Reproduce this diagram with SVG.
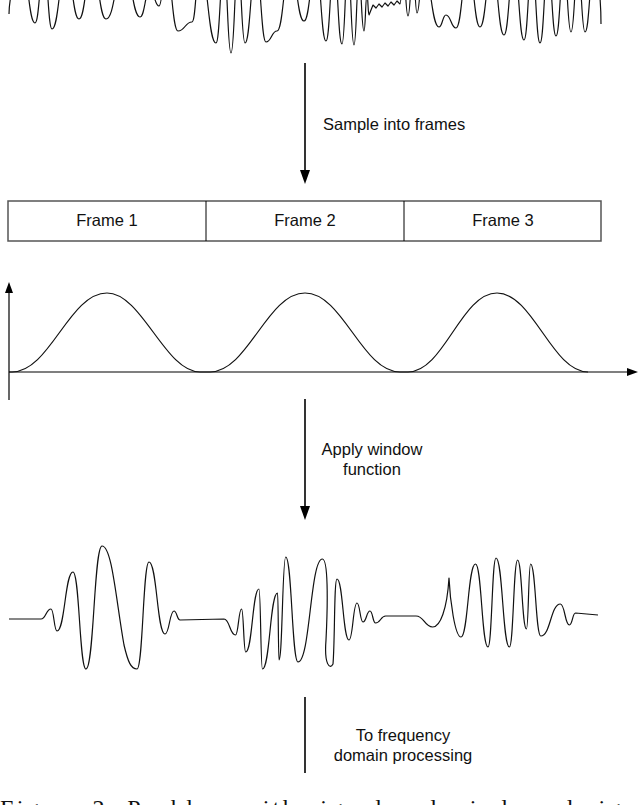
<svg xmlns="http://www.w3.org/2000/svg" width="640" height="805" viewBox="0 0 640 805">
<style>
.wave{fill:none;stroke:#111;stroke-width:1.2;stroke-linejoin:round}
.lbl{font-family:"Liberation Sans",Arial,sans-serif;font-size:16.5px;fill:#111}
.flow{stroke:#000;stroke-width:1.6;fill:none}
.head{fill:#000}
.axis{stroke:#000;stroke-width:1.2}
</style>
<rect width="640" height="805" fill="#fff"/>
<g id="signal">
<path class="wave" d="M9,14 C9,4 14,-30 22,-30 C28.5,-30 28.5,23 35,23 C39.5,23 39.5,-30 44,-30 C48,-30 48,29 52,29 C59,29 59,-30 66,-30 C72.5,-30 72.5,19 79,19 C85.5,19 85.5,-30 92,-30 C99,-30 99,19 106,19 C115,19 115,-30 124,-30 C132,-30 132,17 140,17 C145,17 145,-10 150,-10 C154.5,-10 154.5,6 159,6 C162.5,6 162.5,-30 166,-30 C172,-30 172,31 178,31 C185,31 185,22 192,22 C196,22 196,-30 200,-30 C208,-30 208,43 216,43 C220,43 220,-30 224,-30 C227.5,-30 227.5,53 231,53 C234.5,53 234.5,-30 238,-30 C241.5,-30 241.5,43 245,43 C250.5,43 250.5,-30 256,-30 C261,-30 261,42 266,42 C271.5,42 271.5,31 277,31 C283.5,31 283.5,-30 290,-30 C297,-30 297,21 304,21 C310,21 310,-30 316,-30 C321,-30 321,41 326,41 C330,41 330,-30 334,-30 C338,-30 338,44 342,44 C345,44 345,-30 348,-30 C351,-30 351,45 354,45 C356.5,45 356.5,-20 359,-20 C361.5,-20 361.5,31 364,31 C365.5,31 365.5,-5 367,-5 C368,-5 368,15 369,15 L373,5 376,8 379,4 382,7 385,3 388,6 391,2 394,5 397,1 400,4 C401.5,4 401.5,-30 403,-30 C405.5,-30 405.5,16 408,16 C410.5,16 410.5,-30 413,-30 C415,-30 415,13 417,13 C420,13 420,-30 423,-30 C431,-30 431,27 439,27 C442.5,27 442.5,15 446,15 C451,15 451,28 456,28 C462,28 462,-30 468,-30 C474,-30 474,27 480,27 C486,27 486,-30 492,-30 C498,-30 498,35 504,35 C509,35 509,-30 514,-30 C519,-30 519,40 524,40 C528,40 528,-30 532,-30 C536,-30 536,43 540,43 C544,43 544,-30 548,-30 C552,-30 552,36 556,36 C560,36 560,-30 564,-30 C567.5,-30 567.5,32 571,32 C574.5,32 574.5,-30 578,-30 C581.5,-30 581.5,32 585,32 C589.5,32 589.5,-30 594,-30 C598,-30 601,0 601,24"/>
</g>
<g id="frames">
<rect x="8" y="201" width="593" height="40" fill="#fff" stroke="#555" stroke-width="1.5"/>
<line x1="206" y1="201" x2="206" y2="241" stroke="#000" stroke-width="1"/>
<line x1="404" y1="201" x2="404" y2="241" stroke="#000" stroke-width="1"/>
<text class="lbl" x="107" y="226" text-anchor="middle" font-size="16">Frame 1</text>
<text class="lbl" x="305" y="226" text-anchor="middle" font-size="16">Frame 2</text>
<text class="lbl" x="503" y="226" text-anchor="middle" font-size="16">Frame 3</text>
</g>
<g id="window">
<line class="axis" x1="9" y1="400" x2="9" y2="292"/>
<polygon class="head" points="5,293 13,293 9,282"/>
<line class="axis" x1="9" y1="372" x2="628" y2="372"/>
<polygon class="head" points="627,368 627,376 638,372"/>
<path class="wave" d="M9,372 L12,372 C50,372 69,293 107,293 C142,293 165,372 200,372 L210,372 C248,372 267,293 305,293 C343,293 362,372 400,372 L408,372 C444,372 461,293 497,293 C533,293 552,372 588,372"/>
</g>
<g id="windowed">
<path class="wave" d="M9,619 L41,619 C46,619 46,609 51,609 C54,609 54,631 57,631 C65,631 65,572 73,572 C79.5,572 79.5,669 86,669 C94,669 94,546 102,546 C112,546 116,600 124,645 C128,662 131,669 137,669 C143,669 143,562 149,562 C157,562 157,634 165,634 C169.5,634 169.5,611 174,611 C177,611 177,620 180,620 L224,619 C229.75,619 229.75,635 235.5,635 C238.5,635 238.5,609 241.6,609 C243.6,609 243.6,652 245.7,652 C252.4,652 252.4,589 259,589 C260.7,589 260.7,669 262.4,669 C270,669 270,593 277.6,593 C278.3,593 278.3,660 279,660 C282.4,660 282.4,557 285.7,557 C291.9,557 291.9,662 298,662 C310.2,662 310.2,559 322.4,559 C328,559 328,600 326,640 C324,665 330,670 333,664 C335,640 334,579 337,579 C343,579 343,640 349,640 C353,640 353,603 357,603 C360,603 360,622 363,622 C366.5,622 366.5,611 370,611 C372.75,611 372.75,623 375.5,623 C380.6,623 380.6,616 385.7,616 L416,616 C424.3,616 424.3,627 432.7,627 C440,627 447,610 449,578 C450,600 455,637 461,637 C468,637 468,564 475.5,564 C481.7,564 481.7,647 488,647 C492,647 492,558 496,558 C502.7,558 502.7,647 509.4,647 C513.5,647 513.5,560 517.6,560 C522,560 522,629 526.5,629 C528.5,629 528.5,564 530.6,564 C535.7,564 535.7,636 540.8,636 C550.6,636 550.6,604 560.4,604 C564.9,604 564.9,625 569.4,625 C572.5,625 572.5,613 575.5,613 L598,615"/>
</g>
<g id="connectors">
<line class="flow" x1="305" y1="63" x2="305" y2="172"/>
<polygon class="head" points="300,170 310,170 305,184"/>
<line class="flow" x1="305" y1="399" x2="305" y2="508"/>
<polygon class="head" points="300,506 310,506 305,520"/>
<line class="flow" x1="305" y1="697" x2="305" y2="773"/>
</g>
<g id="labels">
<text class="lbl" x="323" y="130">Sample into frames</text>
<text class="lbl" x="372" y="455" text-anchor="middle">Apply window</text>
<text class="lbl" x="372" y="475" text-anchor="middle">function</text>
<text class="lbl" x="403" y="741" text-anchor="middle">To frequency</text>
<text class="lbl" x="403" y="761" text-anchor="middle">domain processing</text>
</g>
<text x="0" y="816" font-family="'Liberation Serif','DejaVu Serif',serif" font-size="24" fill="#111" textLength="660" lengthAdjust="spacing">Figure 2: Problem with signal and windowed signal</text>
</svg>
